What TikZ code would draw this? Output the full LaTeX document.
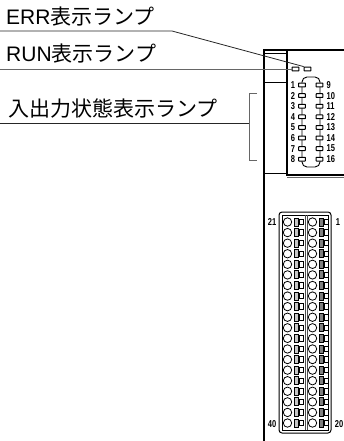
\documentclass[tikz,border=0pt]{standalone}
\usepackage{fontspec}
\setmainfont{Liberation Sans}
\newfontfamily\cjk{Noto Sans CJK JP}
\newfontfamily\numf[FakeStretch=0.75]{Liberation Sans Bold}
\tikzset{
  lbl/.style={anchor=west,inner sep=0pt,font=\fontsize{21}{21}\selectfont},
  num/.style={inner sep=0pt,font=\fontsize{10}{10}\numf},
  leader/.style={line width=0.8pt,black!85},
  graylead/.style={line width=0.9pt,black!60},
  body/.style={line width=1.8pt,black},
  thinl/.style={line width=0.9pt,black},
  led/.style={draw=black,line width=1pt,fill=white,rounded corners=0.4pt,minimum width=6.6pt,minimum height=3.8pt,inner sep=0pt},
  hole/.style={circle,draw=black,line width=0.8pt,fill=white,minimum size=8.4pt,inner sep=0pt},
  clampl/.style={draw=black,line width=0.9pt,fill=black!22,minimum width=4.5pt,minimum height=8pt,inner sep=0pt},
  clampr/.style={draw=black,line width=0.9pt,fill=black!50,minimum width=4.5pt,minimum height=8pt,inner sep=0pt},
  clampb/.style={draw=black,line width=0.9pt,fill=white,minimum width=4pt,minimum height=5.5pt,inner sep=0pt}
}
\begin{document}
\begin{tikzpicture}[x=1pt,y=-1pt]
\useasboundingbox (0,0) rectangle (344,441);
% labels
\node[lbl] (err) at (6,17) {ERR{\cjk 表示ランプ}};
\node[lbl] (run) at (6,53.5) {RUN{\cjk 表示ランプ}};
\node[lbl] (io) at (8,109) {{\cjk 入出力状態表示ランプ}};
% body
\draw[body] (264,441) -- (264,50) -- (344,50);
\draw[thinl] (264,53) -- (287,53);
\draw[line width=1.1pt] (287,50) -- (287,175) -- (344,175);
\draw[line width=0.9pt,black!60] (287,177) -- (344,177);
\draw[thinl] (264,82) -- (287,82);
\draw[body] (264,173.5) -- (286,173.5);
% LEDs on top
\node[led] (lrun) at (295.5,69) {};
\node[led] (lerr) at (307.5,69) {};
% leaders
\coordinate (e0) at (0,31);
\coordinate (e1) at (172,31);
\coordinate (r0) at (0,69);
\coordinate (i0) at (0,123);
\coordinate (b0) at (257,93);
\coordinate (b1) at (249,93);
\coordinate (b2) at (249,160);
\coordinate (b3) at (257,160);
\coordinate (bm) at (249,123);
\draw[leader] (e0) -- (e1) -- (lerr.north west);
\draw[graylead] (r0) -- (lrun.west);
\draw[leader] (i0) -- (bm);
\draw[graylead] (b0) -- (b1) -- (b2) -- (b3);
% capsule
\draw[thinl,rounded corners=5pt] (302,77) rectangle (320,167);
\foreach \n [count=\i from 0] in {1,...,8}{
  \pgfmathsetmacro\yy{85+10.6*\i}
  \pgfmathtruncatemacro\m{\n+8}
  \node[led] (a\n) at (302,\yy) {};
  \node[led] (c\n) at (319.5,\yy) {};
  \node[num] (t\n) at (293,\yy) {\n};
  \node[num,anchor=west] (u\n) at (326.5,\yy) {\m};
}
% terminal block
\draw[line width=1pt,rounded corners=3pt] (279,212) rectangle (331,433);
\draw[thinl] (282,215) rectangle (328,430);
\draw[line width=0.7pt,black!70] (305.5,215) -- (305.5,430);
\draw[line width=0.7pt,black!70] (307,215) -- (307,430);
\foreach \i in {0,...,19}{
  \pgfmathsetmacro\yy{222+10.58*\i}
  \node[hole] (h\i) at (287.5,\yy) {};
  \node[clampl] at (296.5,\yy) {};
  \node[clampb] at (301,\yy) {};
  \node[hole] (k\i) at (312.5,\yy) {};
  \node[clampr] at (321.5,\yy) {};
  \node[clampb] at (326,\yy) {};
}
\node[num] (n21) at (272,222) {21};
\node[num] (n1) at (338,222) {1};
\node[num] (n40) at (272,424) {40};
\node[num] (n20) at (339,424) {20};
\end{tikzpicture}
\end{document}
